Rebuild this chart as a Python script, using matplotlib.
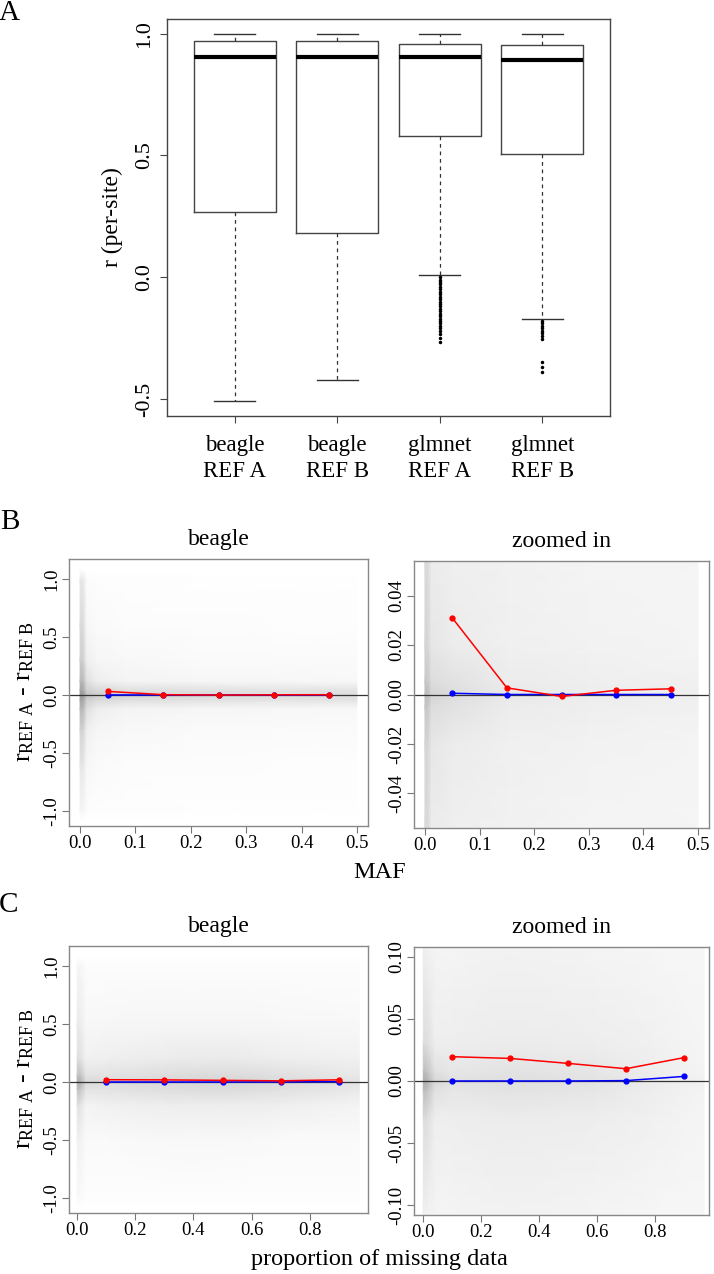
import numpy as np
import matplotlib
matplotlib.use("Agg")
import matplotlib.pyplot as plt
from matplotlib.colors import LinearSegmentedColormap

plt.rcParams['font.family'] = ['Liberation Serif', 'DejaVu Serif']
plt.rcParams['mathtext.fontset'] = 'custom'
plt.rcParams['mathtext.rm'] = 'Liberation Serif'
plt.rcParams['mathtext.it'] = 'Liberation Serif:italic'

# ---------------- Panel A data (box plot summary) ----------------
box_labels = ["beagle\nREF A", "beagle\nREF B", "glmnet\nREF A", "glmnet\nREF B"]
box_whislo = [-0.508, -0.422, 0.008, -0.172]
box_q1 = [0.266, 0.182, 0.579, 0.504]
box_med = [0.904, 0.902, 0.902, 0.892]
box_q3 = [0.970, 0.970, 0.956, 0.955]
box_whishi = [1.0, 1.0, 1.0, 1.0]
box_fliers = [
    [],
    [],
    [0.0, -0.01, -0.02, -0.03, -0.04, -0.05, -0.06, -0.07, -0.08, -0.09, -0.10,
     -0.11, -0.12, -0.13, -0.14, -0.15, -0.16, -0.17, -0.18, -0.19, -0.20,
     -0.21, -0.22, -0.235, -0.25, -0.265],
    [-0.18, -0.19, -0.20, -0.21, -0.22, -0.23, -0.24, -0.255, -0.347, -0.368, -0.391],
]

# ---------------- Panel B data (MAF bins) ----------------
maf_bins = [0.05, 0.15, 0.25, 0.35, 0.45]
maf_red = [0.031, 0.0027, -0.0008, 0.0017, 0.0023]
maf_blue = [0.0005, 0.0, 0.0, 0.0, 0.0]

# ---------------- Panel C data (missing-data bins) ----------------
miss_bins = [0.1, 0.3, 0.5, 0.7, 0.9]
miss_red = [0.0196, 0.0182, 0.0142, 0.0099, 0.0188]
miss_blue = [0.0, 0.0, 0.0, 0.0003, 0.0037]

# ------------- Background point-cloud density (estimated shade) -------------
bL_x = [0.0, 0.005, 0.012, 0.03, 0.08, 0.2, 0.35, 0.5]
bL_y = [-1.08, -1.0, -0.6, -0.3, -0.12, -0.04, 0.0, 0.04, 0.12, 0.3, 0.6, 1.0, 1.08]
bL_z = [
    [0.00, 0.00, 0.00, 0.00, 0.00, 0.00, 0.00, 0.00],
    [0.08, 0.08, 0.03, 0.02, 0.02, 0.01, 0.01, 0.01],
    [0.22, 0.22, 0.07, 0.04, 0.03, 0.03, 0.02, 0.02],
    [0.38, 0.38, 0.14, 0.08, 0.06, 0.05, 0.04, 0.04],
    [0.62, 0.62, 0.28, 0.15, 0.10, 0.08, 0.07, 0.06],
    [0.78, 0.78, 0.42, 0.33, 0.28, 0.26, 0.24, 0.24],
    [0.88, 0.88, 0.52, 0.42, 0.38, 0.33, 0.30, 0.30],
    [0.78, 0.78, 0.42, 0.33, 0.28, 0.26, 0.24, 0.24],
    [0.62, 0.62, 0.28, 0.15, 0.10, 0.08, 0.07, 0.06],
    [0.42, 0.42, 0.14, 0.08, 0.06, 0.05, 0.04, 0.04],
    [0.32, 0.32, 0.07, 0.04, 0.03, 0.03, 0.02, 0.02],
    [0.20, 0.20, 0.03, 0.02, 0.02, 0.01, 0.01, 0.01],
    [0.00, 0.00, 0.00, 0.00, 0.00, 0.00, 0.00, 0.00],
]
bR_x = [0.0, 0.005, 0.012, 0.05, 0.15, 0.3, 0.5]
bR_y = [-0.054, -0.02, -0.005, 0.0, 0.005, 0.02, 0.054]
bR_z = [
    [0.32, 0.32, 0.17, 0.14, 0.12, 0.10, 0.09],
    [0.36, 0.36, 0.21, 0.17, 0.13, 0.11, 0.10],
    [0.48, 0.48, 0.30, 0.25, 0.17, 0.14, 0.12],
    [0.58, 0.58, 0.38, 0.30, 0.20, 0.16, 0.13],
    [0.48, 0.48, 0.30, 0.25, 0.17, 0.14, 0.12],
    [0.36, 0.36, 0.21, 0.17, 0.13, 0.11, 0.10],
    [0.32, 0.32, 0.17, 0.14, 0.12, 0.10, 0.09],
]
cL_x = [0.0, 0.01, 0.03, 0.1, 0.3, 0.5, 0.7, 0.97]
cL_y = [-1.08, -1.0, -0.5, -0.2, -0.06, 0.0, 0.06, 0.2, 0.5, 1.0, 1.08]
cL_z = [
    [0.00, 0.00, 0.00, 0.00, 0.00, 0.00, 0.00, 0.00],
    [0.04, 0.04, 0.02, 0.02, 0.02, 0.02, 0.02, 0.02],
    [0.11, 0.11, 0.05, 0.05, 0.06, 0.06, 0.05, 0.04],
    [0.24, 0.24, 0.10, 0.12, 0.15, 0.16, 0.14, 0.10],
    [0.52, 0.52, 0.24, 0.24, 0.29, 0.31, 0.27, 0.19],
    [0.72, 0.72, 0.34, 0.29, 0.34, 0.36, 0.31, 0.24],
    [0.52, 0.52, 0.24, 0.24, 0.29, 0.31, 0.27, 0.19],
    [0.27, 0.27, 0.12, 0.14, 0.17, 0.18, 0.15, 0.12],
    [0.17, 0.17, 0.07, 0.07, 0.08, 0.08, 0.07, 0.06],
    [0.08, 0.08, 0.03, 0.03, 0.03, 0.03, 0.03, 0.03],
    [0.00, 0.00, 0.00, 0.00, 0.00, 0.00, 0.00, 0.00],
]
cR_x = [0.0, 0.01, 0.04, 0.1, 0.3, 0.6, 0.8, 0.97]
cR_y = [-0.108, -0.03, -0.008, 0.0, 0.008, 0.03, 0.108]
cR_z = [
    [0.12, 0.12, 0.10, 0.10, 0.11, 0.10, 0.08, 0.07],
    [0.30, 0.30, 0.15, 0.15, 0.17, 0.15, 0.12, 0.09],
    [0.55, 0.55, 0.26, 0.21, 0.24, 0.21, 0.15, 0.10],
    [0.70, 0.70, 0.35, 0.26, 0.28, 0.24, 0.17, 0.12],
    [0.55, 0.55, 0.26, 0.21, 0.24, 0.21, 0.15, 0.10],
    [0.30, 0.30, 0.15, 0.15, 0.17, 0.15, 0.12, 0.09],
    [0.12, 0.12, 0.10, 0.10, 0.11, 0.10, 0.08, 0.07],
]

W, H = 714, 1274
fig = plt.figure(figsize=(W / 100, H / 100), dpi=100)


def ax_px(x0, y0, x1, y1):
    return fig.add_axes([x0 / W, 1 - y1 / H, (x1 - x0) / W, (y1 - y0) / H])


cloud_cmap = LinearSegmentedColormap.from_list("cloud", ["#ffffff", "#8c8c8c"])

# ---------------- Panel A ----------------
axA = ax_px(167, 19, 610, 416)
stats = []
for i in range(len(box_labels)):
    stats.append(dict(med=box_med[i], q1=box_q1[i], q3=box_q3[i],
                      whislo=box_whislo[i], whishi=box_whishi[i],
                      fliers=box_fliers[i], label=box_labels[i]))
axA.bxp(stats, positions=[1, 2, 3, 4], widths=0.8, showfliers=True,
        boxprops=dict(color='#444444', linewidth=1.0),
        medianprops=dict(color='black', linewidth=3.0),
        whiskerprops=dict(color='#333333', linewidth=0.9, linestyle=(0, (3, 3))),
        capprops=dict(color='#333333', linewidth=1.0),
        capwidths=0.4,
        flierprops=dict(marker='o', markersize=1.5, markerfacecolor='black',
                        markeredgecolor='black', linestyle='none'))
axA.set_xlim(0.34, 4.66)
axA.set_ylim(-0.57, 1.06)
axA.set_yticks([-0.5, 0.0, 0.5, 1.0])
axA.set_yticklabels(["-0.5", "0.0", "0.5", "1.0"], rotation=90, va='center')
axA.set_xticks([1, 2, 3, 4])
axA.set_xticklabels(box_labels, linespacing=1.3)
axA.tick_params(axis='x', labelsize=16.5, direction='out', length=5, width=0.8,
                pad=9, color='#444444')
axA.tick_params(axis='y', labelsize=16, direction='out', length=5, width=0.8,
                pad=4, color='#444444')
for s in axA.spines.values():
    s.set_color('#444444')
    s.set_linewidth(1.0)
axA.set_ylabel("r (per-site)", fontsize=17, labelpad=9)


def scatter_panel(ax, cx, cy, cz, bins, red, blue, xlim, ylim, yticks, ylabels,
                  xticks, xlabels, title):
    ax.pcolormesh(np.array(cx), np.array(cy), np.array(cz), shading='gouraud',
                  cmap=cloud_cmap, vmin=0, vmax=1, zorder=0, rasterized=True)
    ax.axhline(0, color='#333333', linewidth=0.9, zorder=2)
    ax.plot(bins, blue, color='#0000ff', linewidth=1.1, marker='o',
            markersize=3.5, zorder=3)
    ax.plot(bins, red, color='#ff0000', linewidth=1.1, marker='o',
            markersize=3.5, zorder=4)
    ax.set_xlim(*xlim)
    ax.set_ylim(*ylim)
    ax.set_yticks(yticks)
    ax.set_yticklabels(ylabels, rotation=90, va='center')
    ax.set_xticks(xticks)
    ax.set_xticklabels(xlabels)
    ax.tick_params(axis='both', labelsize=13.5, direction='out', length=5,
                   width=0.8, color='#777777', pad=1.5)
    for s in ax.spines.values():
        s.set_color('#888888')
        s.set_linewidth(1.0)
    ax.set_title(title, fontsize=17, pad=10)


# ---------------- Panel B ----------------
axBL = ax_px(69, 559, 368, 826)
scatter_panel(axBL, bL_x, bL_y, bL_z, maf_bins, maf_red, maf_blue,
              (-0.02, 0.52), (-1.132, 1.175),
              [-1.0, -0.5, 0.0, 0.5, 1.0], ["-1.0", "-0.5", "0.0", "0.5", "1.0"],
              [0.0, 0.1, 0.2, 0.3, 0.4, 0.5], ["0.0", "0.1", "0.2", "0.3", "0.4", "0.5"],
              "beagle")
axBR = ax_px(414, 561, 709, 828)
scatter_panel(axBR, bR_x, bR_y, bR_z, maf_bins, maf_red, maf_blue,
              (-0.02, 0.52), (-0.054, 0.054),
              [-0.04, -0.02, 0.0, 0.02, 0.04], ["-0.04", "-0.02", "0.00", "0.02", "0.04"],
              [0.0, 0.1, 0.2, 0.3, 0.4, 0.5], ["0.0", "0.1", "0.2", "0.3", "0.4", "0.5"],
              "zoomed in")

# ---------------- Panel C ----------------
axCL = ax_px(69, 946, 368, 1213)
scatter_panel(axCL, cL_x, cL_y, cL_z, miss_bins, miss_red, miss_blue,
              (-0.028, 1.0), (-1.132, 1.175),
              [-1.0, -0.5, 0.0, 0.5, 1.0], ["-1.0", "-0.5", "0.0", "0.5", "1.0"],
              [0.0, 0.2, 0.4, 0.6, 0.8], ["0.0", "0.2", "0.4", "0.6", "0.8"],
              "beagle")
axCR = ax_px(414, 947, 709, 1215)
scatter_panel(axCR, cR_x, cR_y, cR_z, miss_bins, miss_red, miss_blue,
              (-0.032, 0.987), (-0.108, 0.108),
              [-0.10, -0.05, 0.0, 0.05, 0.10], ["-0.10", "-0.05", "0.00", "0.05", "0.10"],
              [0.0, 0.2, 0.4, 0.6, 0.8], ["0.0", "0.2", "0.4", "0.6", "0.8"],
              "zoomed in")

# ---------------- Labels ----------------
ylab = r"r$_{\mathrm{REF\ A}}$ - r$_{\mathrm{REF\ B}}$"
fig.text(25 / W, 1 - 692 / H, ylab, rotation=90, fontsize=18.5, ha='center', va='center')
fig.text(25 / W, 1 - 1079 / H, ylab, rotation=90, fontsize=18.5, ha='center', va='center')
fig.text(380 / W, 1 - 873 / H, "MAF", fontsize=17.5, ha='center', va='center')
fig.text(379 / W, 1 - 1260 / H, "proportion of missing data", fontsize=17.5,
         ha='center', va='center')
fig.text(9 / W, 1 - 13 / H, "A", fontsize=21, ha='center', va='center')
fig.text(10 / W, 1 - 522 / H, "B", fontsize=21, ha='center', va='center')
fig.text(9 / W, 1 - 905 / H, "C", fontsize=21, ha='center', va='center')

fig.savefig("out.png", dpi=100)
